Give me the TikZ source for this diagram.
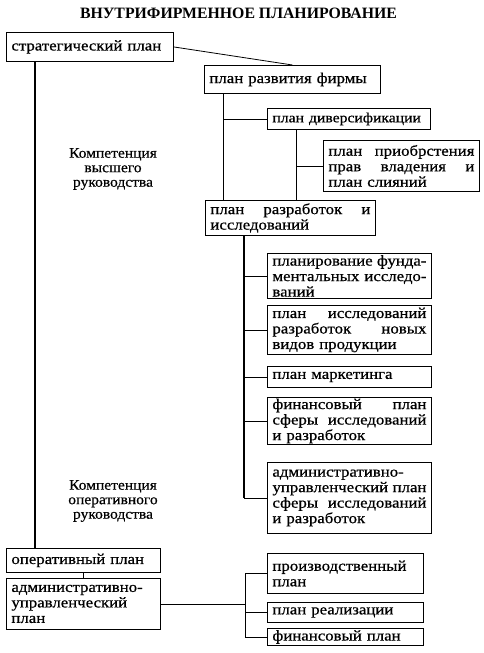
\documentclass[tikz,border=0pt]{standalone}
\usepackage{fontspec}
\setmainfont{Liberation Serif}
\newfontfamily\bx[FakeStretch=1.12,FakeBold=0.7]{Liberation Serif}
\newfontfamily\lbf[FakeStretch=1.07,FakeBold=0.5]{Liberation Serif}
\newcommand\jl[1]{\leavevmode\hbox to \tw pt{#1}}
\newcommand\mkbox[6]{%
  \pgfmathsetmacro\bw{#4-#2}\pgfmathsetmacro\bh{#5-#3}\pgfmathsetmacro\tw{#4-#2-10}%
  \node[box, minimum width=\bw pt, minimum height=\bh pt, text width=\tw pt] (#1) at (#2,#3) {#6};}
\tikzset{
  box/.style={draw, line width=0.9pt, anchor=north west, inner xsep=5pt, inner ysep=0pt,
    align=left, font=\bx\fontsize{15}{15.5}\selectfont},
  conn/.style={draw, line width=0.8pt},
  thickconn/.style={draw, line width=1.5pt},
  lbl/.style={align=center, font=\lbf\fontsize{14.5}{14.5}\selectfont},
}
\begin{document}
\begin{tikzpicture}[x=1pt,y=-1pt]
\useasboundingbox (0,0) rectangle (483,653);
\node[font=\bfseries\fontsize{15.8}{18}\selectfont] (title) at (238.5,13) {ВНУТРИФИРМЕННОЕ ПЛАНИРОВАНИЕ};
\mkbox{strat}{6}{32}{173}{61}{стратегический план}
\mkbox{razv}{204}{65}{380}{93}{план развития фирмы}
\mkbox{div}{267}{108}{430}{129}{\fontsize{14}{15.5}\selectfont план диверсификации}
\mkbox{pri}{323}{140}{479}{191}{\jl{план\hfill приобрстения}\\\jl{прав\hfill владения\hfill и}\\план слияний}
\mkbox{razr}{205}{200}{375}{235}{\jl{план\hfill разработок\hfill и}\\исследований}
\mkbox{fund}{267}{253}{431}{298}{\jl{планирование\hfill фунда-}\\\jl{ментальных\hfill исследо-}\\ваний}
\mkbox{nov}{267}{305}{431}{354}{\jl{план\hfill исследований}\\\jl{разработок\hfill новых}\\видов продукции}
\mkbox{mark}{267}{366}{431}{387}{план маркетинга}
\mkbox{finr}{267}{397}{431}{444}{\jl{финансовый\hfill план}\\\jl{сферы\hfill исследований}\\и разработок}
\mkbox{admr}{267}{462}{431}{533}{\jl{административно-\hfill}\\\jl{управленческий\hfill план}\\\jl{сферы\hfill исследований}\\и разработок}
\mkbox{oper}{6}{548}{160}{572}{оперативный план}
\mkbox{adm}{6}{578}{160}{629}{административно-\\управленческий\\план}
\mkbox{prod}{267}{553}{423}{593}{производственный\\план}
\mkbox{real}{267}{602}{423}{622}{план реализации}
\mkbox{fin}{267}{628}{423}{645}{финансовый план}
\node[lbl] (lab1) at (113,169) {Компетенция\\высшего\\руководства};
\node[lbl] (lab2) at (113,501) {Компетенция\\оперативного\\руководства};
% connectors
\draw[conn] (strat.east) -- (razv.north);
\coordinate (sv) at ([xshift=29pt]strat.south west);
\draw[thickconn] (sv) -- (sv |- oper.north);
\coordinate (rv) at ([xshift=19pt]razv.south west);
\draw[conn] (rv) -- (rv |- razr.north);
\draw[conn] (rv |- div.west) -- (div.west);
\coordinate (dv) at ([xshift=29pt]div.south west);
\draw[conn] (dv) -- (dv |- razr.north);
\draw[conn] (dv |- pri.west) -- (pri.west);
\coordinate (zv) at ([xshift=39pt]razr.south west);
\draw[thickconn] (zv) -- (zv |- admr.west);
\foreach \b in {fund,nov,mark,finr,admr}{\draw[conn] (zv |- \b.west) -- (\b.west);}
\draw[conn] (oper.south) -- (adm.north);
\coordinate (bv) at ([xshift=-22pt]prod.west);
\draw[conn] (adm.east) -- (adm.east -| bv);
\draw[conn] (bv |- prod.west) -- (bv |- fin.west);
\foreach \b in {prod,real,fin}{\draw[conn] (bv |- \b.west) -- (\b.west);}
\end{tikzpicture}
\end{document}
